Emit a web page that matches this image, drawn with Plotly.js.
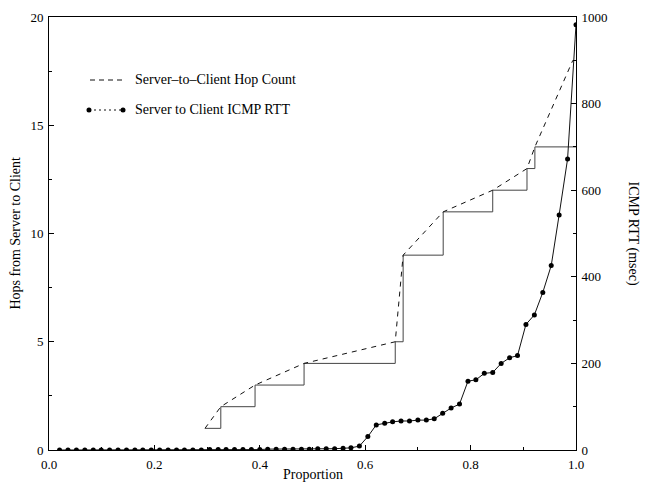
<!DOCTYPE html>
<html>
<head>
<meta charset="utf-8">
<script src="https://cdn.plot.ly/plotly-3.0.1.min.js"></script>
<style>html,body{margin:0;padding:0;background:#fff;}#chart{width:645px;height:493px;}</style>
</head>
<body>
<div id="chart"></div>
<script>
// Step function of hop count (solid)
var stepX = [0.296, 0.326, 0.391, 0.484, 0.657, 0.672, 0.748, 0.842, 0.907, 0.922, 1.0];
var stepHops = [1, 2, 3, 4, 5, 9, 11, 12, 13, 14, 14];
// Server-to-Client Hop Count (dashed)
var hopX = [0.296, 0.326, 0.391, 0.484, 0.657, 0.672, 0.748, 0.842, 0.907, 0.922, 0.994];
var hopCount = [1, 2, 3, 4, 5, 9, 11, 12, 13, 14, 18];
// Server to Client ICMP RTT (msec)
var rttX = [0.020, 0.036, 0.052, 0.068, 0.084, 0.099, 0.115, 0.131, 0.147, 0.163,
            0.178, 0.194, 0.210, 0.226, 0.242, 0.257, 0.273, 0.289, 0.305, 0.321,
            0.336, 0.352, 0.368, 0.384, 0.400, 0.415, 0.431, 0.447, 0.463, 0.479,
            0.494, 0.510, 0.526, 0.542, 0.558, 0.573, 0.589, 0.605, 0.621, 0.637,
            0.652, 0.668, 0.684, 0.700, 0.716, 0.731, 0.747, 0.763, 0.779, 0.795,
            0.810, 0.826, 0.842, 0.858, 0.874, 0.889, 0.905, 0.921, 0.937, 0.953,
            0.968, 0.984, 1.000];
var rttMs = [0, 0, 0, 0, 0, 0, 0, 0, 0, 0,
             0, 0, 0, 0, 0, 0, 0, 0, 1, 1,
             1, 1, 1, 1, 1, 2, 2, 2, 2, 2,
             2, 3, 3, 3, 4, 5, 9, 31, 58, 62,
             65, 67, 67, 69, 69, 72, 85, 97, 106, 159,
             162, 177, 179, 200, 213, 218, 290, 312, 364, 426,
             543, 672, 982];
var legendLabels = ['Server\u2013to\u2013Client Hop Count', 'Server to Client ICMP RTT'];
var xTickVals = [0, 0.2, 0.4, 0.6, 0.8, 1.0];
var hopTickVals = [0, 5, 10, 15, 20];
var rttTickVals = [0, 200, 400, 600, 800, 1000];

var serif = 'Liberation Serif, Times New Roman, serif';

var traces = [
  {x: stepX, y: stepHops, mode: 'lines', line: {shape: 'hv', color: '#444', width: 1}, hoverinfo: 'skip', showlegend: false},
  {x: hopX, y: hopCount, mode: 'lines', line: {color: '#111', width: 1, dash: '5px,5px'}, showlegend: false},
  {x: rttX, y: rttMs, yaxis: 'y2', mode: 'lines+markers', line: {color: '#111', width: 1},
   marker: {color: '#000', size: 5}, showlegend: false}
];

function px2paperX(p) { return (p - 49) / 527; }
function px2paperY(p) { return (450 - p) / 433; }

var row1 = px2paperY(80), row2 = px2paperY(110);
var layout = {
  width: 645, height: 493,
  margin: {l: 49, r: 69, t: 17, b: 43},
  paper_bgcolor: '#fff', plot_bgcolor: '#fff',
  font: {family: serif, size: 13, color: '#000'},
  showlegend: false,
  xaxis: {range: [0, 1], tickvals: xTickVals, tickformat: '.1f', ticks: 'inside', ticklen: 5,
          tickcolor: '#000', showline: true, linecolor: '#000', linewidth: 1, mirror: true,
          showgrid: false, zeroline: false, tickfont: {family: serif, size: 13}, ticklabelstandoff: 2,
          minor: {dtick: 0.1, ticks: 'inside', ticklen: 3, tickcolor: '#000', showgrid: false}},
  yaxis: {range: [0, 20], tickvals: hopTickVals, ticks: 'inside', ticklen: 5, tickcolor: '#000',
          showline: true, linecolor: '#000', linewidth: 1, showgrid: false, zeroline: false,
          tickfont: {family: serif, size: 13}, ticklabelstandoff: 2,
          minor: {dtick: 2.5, ticks: 'inside', ticklen: 3, tickcolor: '#000', showgrid: false}},
  yaxis2: {range: [0, 1000], tickvals: rttTickVals, overlaying: 'y', side: 'right', ticks: 'inside',
           ticklen: 5, tickcolor: '#000', showline: true, linecolor: '#000', linewidth: 1,
           showgrid: false, zeroline: false, tickfont: {family: serif, size: 13}, ticklabelstandoff: 2,
           minor: {dtick: 100, ticks: 'inside', ticklen: 3, tickcolor: '#000', showgrid: false}},
  shapes: [
    {type: 'line', xref: 'paper', yref: 'paper', x0: px2paperX(90), x1: px2paperX(123), y0: row1, y1: row1,
     line: {color: '#111', width: 1, dash: '5px,4px'}},
    {type: 'line', xref: 'paper', yref: 'paper', x0: px2paperX(89), x1: px2paperX(123), y0: row2, y1: row2,
     line: {color: '#111', width: 1, dash: '2px,3px'}},
    {type: 'circle', xref: 'paper', yref: 'paper', xsizemode: 'pixel', ysizemode: 'pixel',
     xanchor: px2paperX(89), yanchor: row2, x0: -2.5, x1: 2.5, y0: -2.5, y1: 2.5,
     fillcolor: '#000', line: {width: 0}},
    {type: 'circle', xref: 'paper', yref: 'paper', xsizemode: 'pixel', ysizemode: 'pixel',
     xanchor: px2paperX(123), yanchor: row2, x0: -2.5, x1: 2.5, y0: -2.5, y1: 2.5,
     fillcolor: '#000', line: {width: 0}}
  ],
  annotations: [
    {text: legendLabels[0], xref: 'paper', yref: 'paper', x: px2paperX(133), y: row1, xanchor: 'left',
     yanchor: 'middle', showarrow: false, font: {family: serif, size: 14}},
    {text: legendLabels[1], xref: 'paper', yref: 'paper', x: px2paperX(133), y: row2, xanchor: 'left',
     yanchor: 'middle', showarrow: false, font: {family: serif, size: 14}},
    {text: 'Proportion', xref: 'paper', yref: 'paper', x: 0.5, y: px2paperY(474), xanchor: 'center',
     yanchor: 'middle', showarrow: false, font: {family: serif, size: 14}},
    {text: 'Hops from Server to Client', xref: 'paper', yref: 'paper', x: px2paperX(15), y: 0.5,
     xanchor: 'center', yanchor: 'middle', textangle: -90, showarrow: false, font: {family: serif, size: 14}},
    {text: 'ICMP RTT (msec)', xref: 'paper', yref: 'paper', x: px2paperX(633), y: 0.5,
     xanchor: 'center', yanchor: 'middle', textangle: 90, showarrow: false, font: {family: serif, size: 14}}
  ]
};

Plotly.newPlot('chart', traces, layout, {staticPlot: true, displayModeBar: false});
</script>
</body>
</html>
